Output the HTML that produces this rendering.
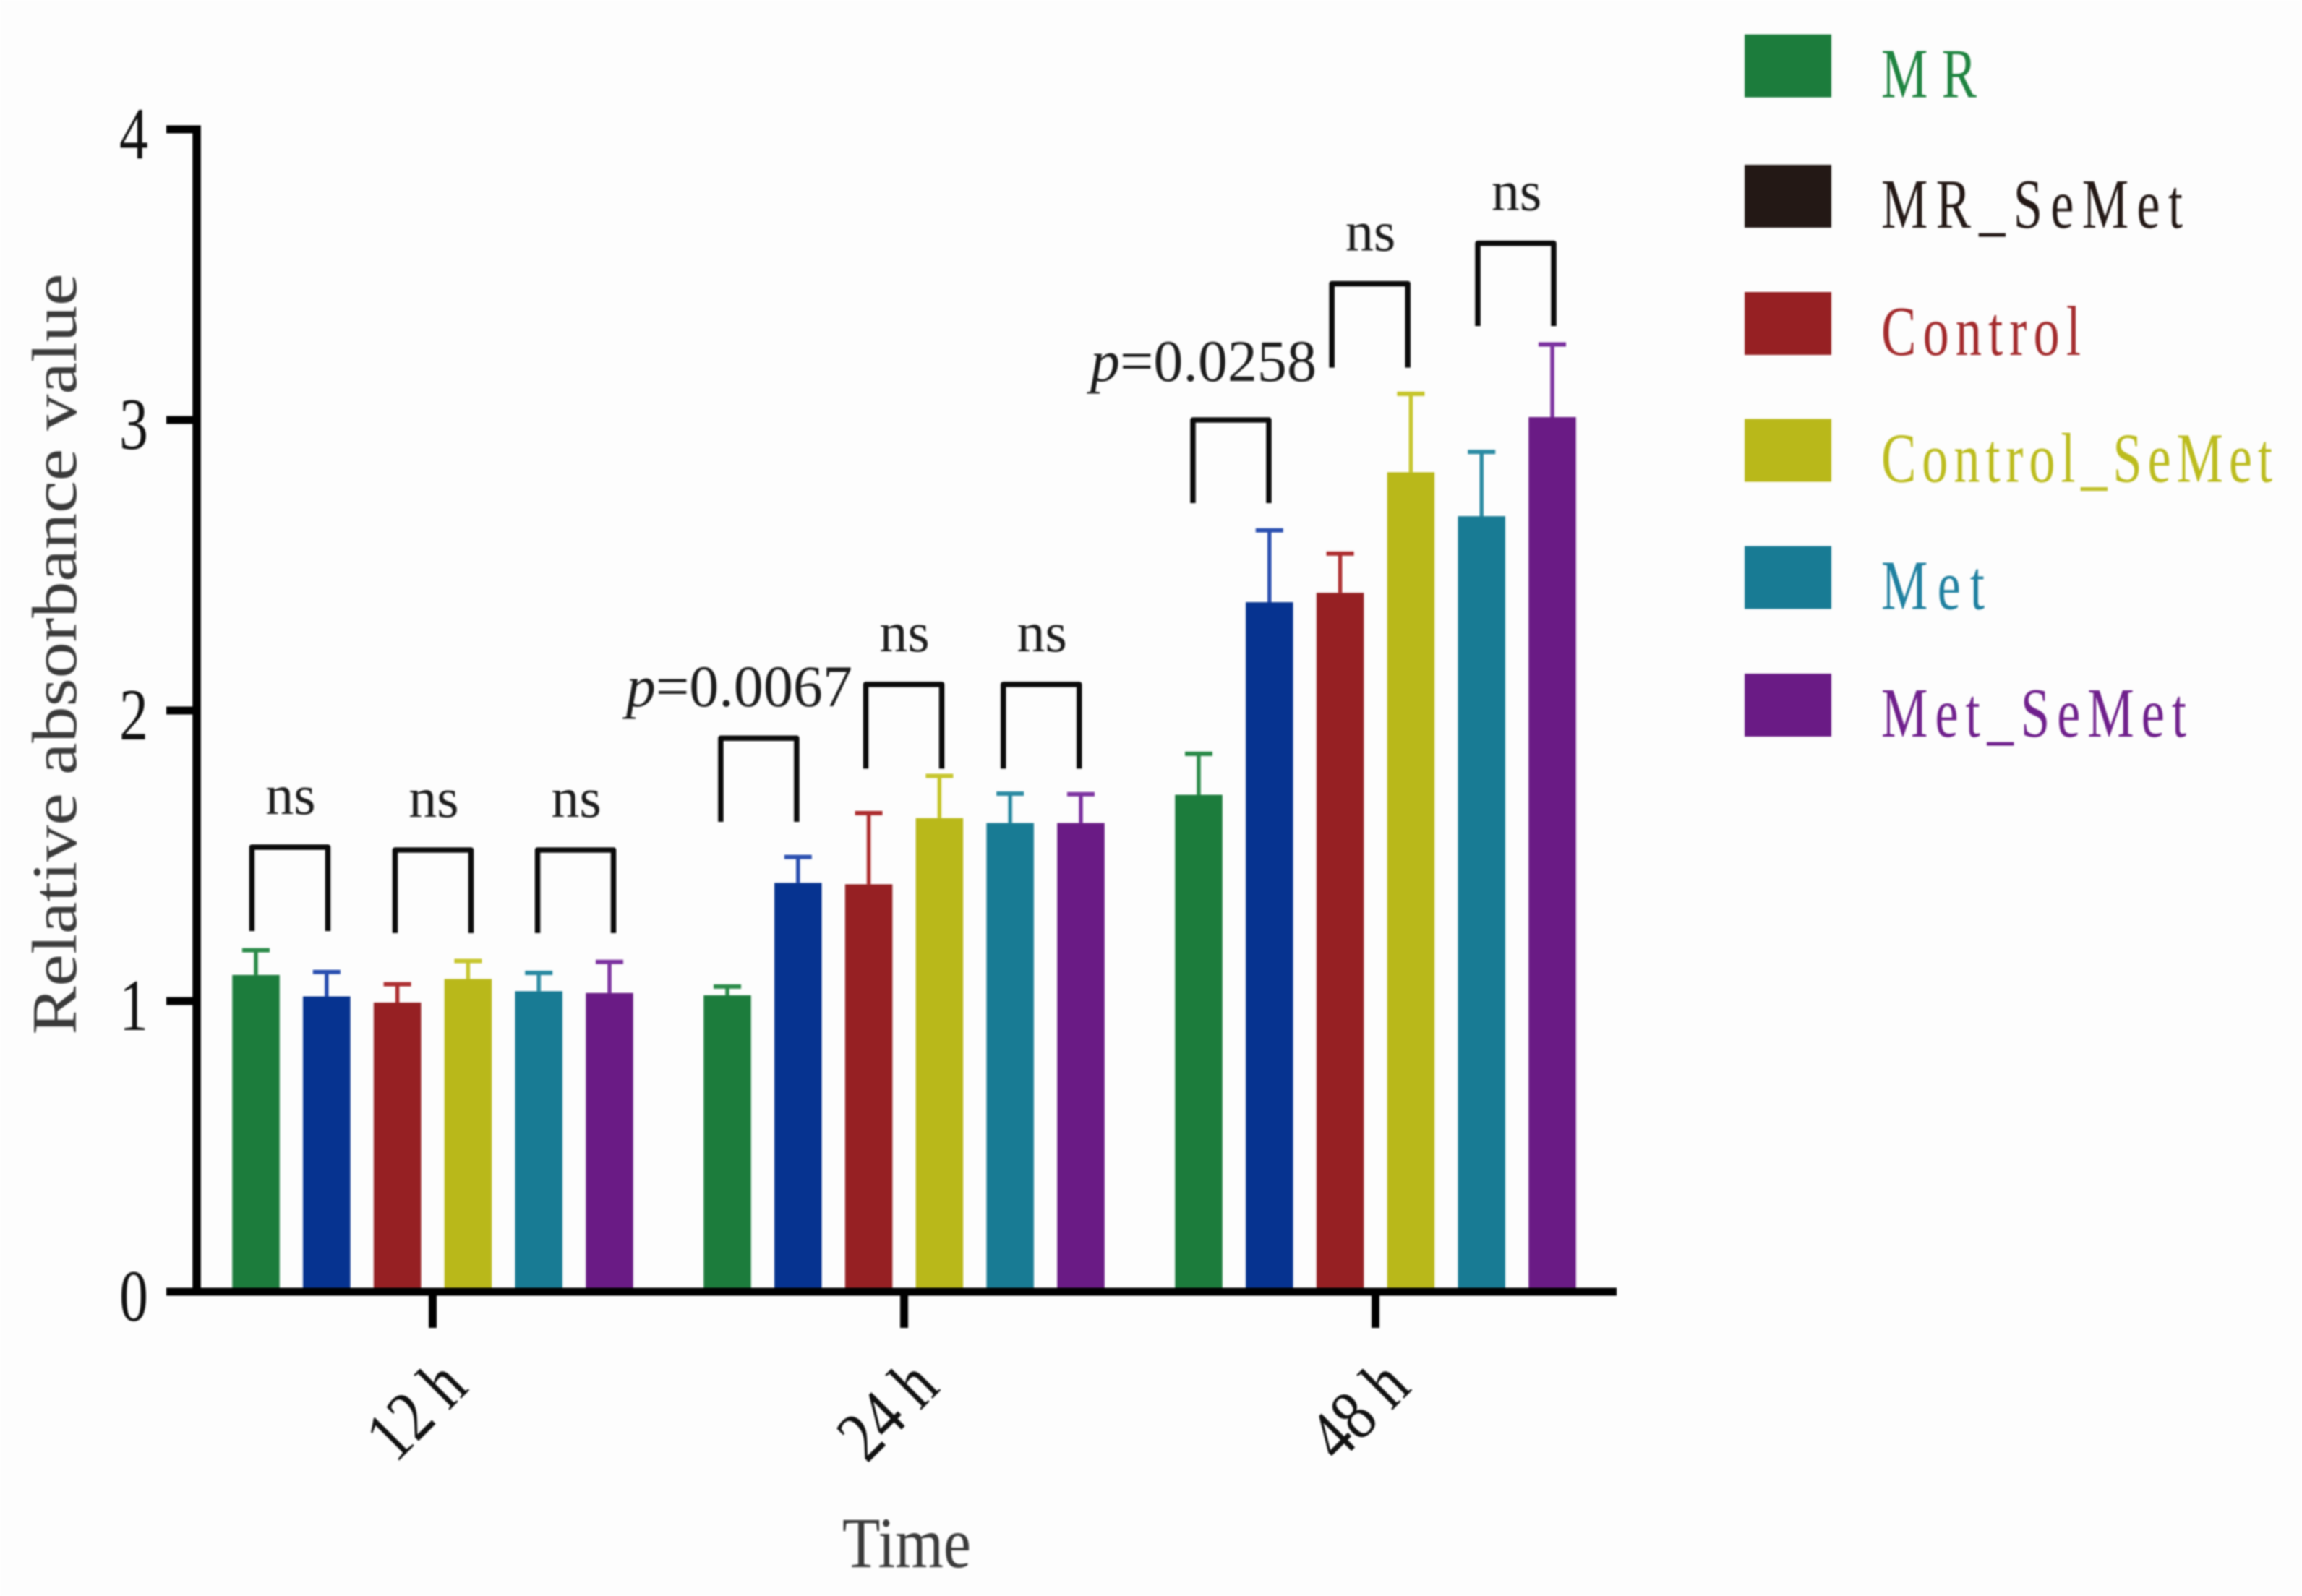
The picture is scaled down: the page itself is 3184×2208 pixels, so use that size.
<!DOCTYPE html>
<html lang="en">
<head>
<meta charset="utf-8">
<title>Relative absorbance value over time</title>
<style>
html,body{margin:0;padding:0;background:#fdfdfd;}
svg{display:block;font-family:"Liberation Serif","Times New Roman",serif;filter:blur(1px);}
</style>
</head>
<body>
<svg id="chart" xmlns="http://www.w3.org/2000/svg" width="3184" height="2208" viewBox="0 0 3184 2208">
  <rect x="0" y="0" width="3184" height="2208" fill="#fdfdfd"/>
</svg>
<script>
const categories = ['12 h', '24 h', '48 h'];
const seriesNames = ['MR', 'MR_SeMet', 'Control', 'Control_SeMet', 'Met', 'Met_SeMet'];
const yTickLabels = [0, 1, 2, 3, 4];

const valuesMR = [1.09, 1.02, 1.71];
const valuesMRSeMet = [1.016, 1.407, 2.373];
const valuesControl = [0.995, 1.402, 2.405];
const valuesControlSeMet = [1.076, 1.63, 2.82];
const valuesMet = [1.034, 1.613, 2.669];
const valuesMetSeMet = [1.028, 1.613, 3.01];

const errorsMR = [0.085, 0.03, 0.141];
const errorsMRSeMet = [0.084, 0.089, 0.247];
const errorsControl = [0.063, 0.245, 0.135];
const errorsControlSeMet = [0.062, 0.145, 0.27];
const errorsMet = [0.063, 0.101, 0.221];
const errorsMetSeMet = [0.107, 0.099, 0.25];

const bracketGroups = [0, 0, 0, 1, 1, 1, 2, 2, 2];
const bracketSlots = [-2.02, 0.005, 2.02, -2.056, -0.005, 1.94, -2.045, -0.08, 1.984];
const bracketTops = [1.53, 1.52, 1.52, 1.905, 2.09, 2.09, 3.0, 3.469, 3.608];
const bracketBottoms = [1.241, 1.234, 1.234, 1.617, 1.8, 1.8, 2.714, 3.18, 3.323];
const bracketLabels = ['ns', 'ns', 'ns', '0.0067', 'ns', 'ns', '0.0258', 'ns', 'ns'];

const allValues = [valuesMR, valuesMRSeMet, valuesControl, valuesControlSeMet, valuesMet, valuesMetSeMet];
const allErrors = [errorsMR, errorsMRSeMet, errorsControl, errorsControlSeMet, errorsMet, errorsMetSeMet];
const barColors = ['#1c7c3c', '#063390', '#962023', '#b9b81a', '#187b94', '#6a1b85'];
const errorColors = ['#2b8b49', '#2a4fb0', '#ad2d2f', '#c6c52c', '#2a8aa2', '#7c32a0'];
const legendColors = ['#1c7c3c', '#231815', '#962023', '#b9b81a', '#187b94', '#6a1b85'];
const legendTextColors = ['#1f8440', '#231815', '#a32a2c', '#bcbc1e', '#1f80a0', '#6f1f8c'];
const legendTextWidths = [132, 417, 276, 541, 143, 422];

const NS = 'http://www.w3.org/2000/svg';
const svg = document.getElementById('chart');

function yScale(v) { return 1787 - 402 * v; }
function groupCenter(g) { return 598.5 + 652 * g; }
function slotX(g, slot) { return groupCenter(g) + slot * 97.8; }
function barX(g, s) { return slotX(g, s - 2.5); }

function make(tag, attrs, parent) {
  const node = document.createElementNS(NS, tag);
  Object.keys(attrs).forEach(function (k) { node.setAttribute(k, attrs[k]); });
  (parent || svg).appendChild(node);
  return node;
}

/* bars and error bars */
const BAR_W = 65.5;
const CAP_W = 38;
allValues.forEach(function (series, s) {
  series.forEach(function (v, g) {
    const cx = barX(g, s);
    const top = yScale(v);
    const bar = make('rect', { x: cx - BAR_W / 2, y: top, width: BAR_W, height: yScale(0) - top, fill: barColors[s] });
    
    

    const capY = yScale(v + allErrors[s][g]);
    const stem = make('line', { x1: cx, x2: cx, y1: top, y2: capY, stroke: errorColors[s], 'stroke-width': 5.5 });
    
    

    const cap = make('line', { x1: cx - CAP_W / 2, x2: cx + CAP_W / 2, y1: capY, y2: capY, stroke: errorColors[s], 'stroke-width': 6 });
    
    
  });
});

/* axes */
const yAxisLine = make('line', { x1: 272, x2: 272, y1: yScale(4) - 5.5, y2: yScale(0) + 5.5, stroke: '#000', 'stroke-width': 11.5 });



const xAxisLine = make('line', { x1: 230, x2: 2236, y1: yScale(0), y2: yScale(0), stroke: '#000', 'stroke-width': 11 });



yTickLabels.forEach(function (t) {
  const y = yScale(t);
  if (t !== 0) {
    const tick = make('line', { x1: 230, x2: 272, y1: y, y2: y, stroke: '#000', 'stroke-width': 11 });
    
    
  }
  const label = make('text', { x: 205, y: y + 40, 'text-anchor': 'end', 'font-size': 102, fill: '#111', textLength: 40, lengthAdjust: 'spacingAndGlyphs' });
  label.textContent = String(t);
  
  
});

categories.forEach(function (c, g) {
  const cx = groupCenter(g);
  const tick = make('line', { x1: cx, x2: cx, y1: yScale(0), y2: yScale(0) + 50, stroke: '#000', 'stroke-width': 11 });
  
  

  const label = make('text', { x: 0, y: 34, 'text-anchor': 'middle', 'font-size': 100, fill: '#111', textLength: 146, lengthAdjust: 'spacingAndGlyphs', transform: 'translate(' + (cx - 24) + ' 1950) rotate(-45)' });
  label.textContent = c;
  
  
});

const yTitle = make('text', { x: 0, y: 0, 'text-anchor': 'middle', 'font-size': 88, fill: '#3a3a3a', textLength: 1053, lengthAdjust: 'spacingAndGlyphs', transform: 'translate(105 905) rotate(-90)' });
yTitle.textContent = 'Relative absorbance value';



const xTitle = make('text', { x: 1254, y: 2168, 'text-anchor': 'middle', 'font-size': 100, fill: '#3a3a3a', textLength: 178, lengthAdjust: 'spacingAndGlyphs' });
xTitle.textContent = 'Time';



/* significance brackets */
bracketLabels.forEach(function (text, i) {
  const cx = slotX(bracketGroups[i], bracketSlots[i]);
  const top = yScale(bracketTops[i]);
  const bottom = yScale(bracketBottoms[i]);
  const halfW = 52.5;
  const bracket = make('path', {
    d: 'M' + (cx - halfW) + ' ' + bottom + 'V' + top + 'H' + (cx + halfW) + 'V' + bottom,
    fill: 'none', stroke: '#0a0a0a', 'stroke-width': 7.5, 'stroke-linejoin': 'round'
  });
  
  

  if (text === 'ns') {
    const ns = make('text', { x: cx + 1, y: top - 46, 'text-anchor': 'middle', 'font-size': 78, fill: '#1c1c1c' });
    ns.textContent = text;
    
    
  } else {
    const shift = text === '0.0067' ? -27 : -38;
    const rise = text === '0.0067' ? 44 : 54;
    const pLabel = make('text', { x: cx + shift, y: top - rise, 'text-anchor': 'middle', 'font-size': 82, fill: '#1c1c1c', textLength: 313, lengthAdjust: 'spacingAndGlyphs' });
    const pMark = make('tspan', { 'font-style': 'italic' }, pLabel);
    pMark.textContent = 'p';
    
    
    const pValue = make('tspan', {}, pLabel);
    pValue.textContent = '=' + text;
    
    
    
    
  }
});

/* legend: horizontally condensed glyphs with open letter spacing */
const LEGEND_SQUEEZE = 0.74;
const legendTops = [47.7, 228, 404, 579.5, 755.5, 932];
seriesNames.forEach(function (name, s) {
  const key = name.toLowerCase().replace('_', '-');
  const swatch = make('rect', { x: 2413, y: legendTops[s], width: 120, height: 87, fill: legendColors[s] });
  
  

  const label = make('text', { x: 0, y: 0, 'font-size': 98, fill: legendTextColors[s], textLength: legendTextWidths[s] / LEGEND_SQUEEZE, lengthAdjust: 'spacing', transform: 'translate(2602 ' + (legendTops[s] + 87) + ') scale(' + LEGEND_SQUEEZE + ' 1)' });
  label.textContent = name;
  
  
});
</script>
</body>
</html>
